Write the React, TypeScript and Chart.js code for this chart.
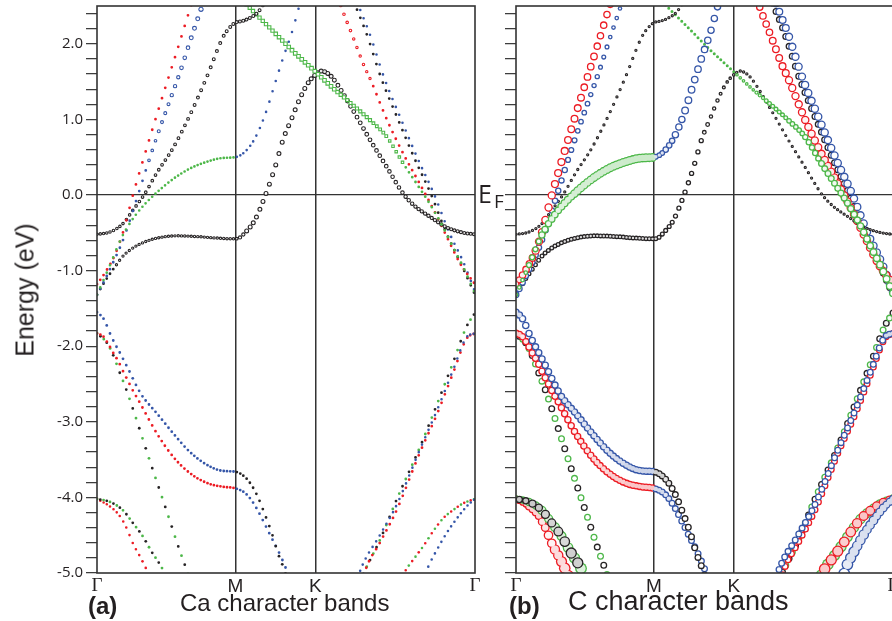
import React, { useEffect, useRef } from 'react';
import { Chart, registerables } from 'chart.js';

Chart.register(...registerables);

// ---------- axes ----------
const kTickValues = [0, 0.577, 0.911, 1.577];
const kTickLabels = ['Γ', 'M', 'K', 'Γ'];
const energyMin = -5;
const energyMax = 2.5;

// ---------- band energies [k, E(eV)] ----------
const bandR1 = [[0,-1.18],[0.025,-1.07],[0.075,-0.79],[0.108,-0.50],[0.150,0.0],[0.213,0.68],[0.280,1.37],[0.338,1.95],[0.392,2.50],[0.405,2.62]];
const bandB1 = [[0,-1.32],[0.025,-1.17],[0.075,-0.84],[0.108,-0.60],[0.167,-0.04],[0.213,0.42],[0.254,0.81],[0.305,1.26],[0.347,1.63],[0.388,2.03],[0.430,2.42],[0.446,2.57]];
const bandK1 = [[0,-0.52],[0.054,-0.49],[0.108,-0.38],[0.150,-0.20],[0.200,0.02],[0.249,0.29],[0.317,0.62],[0.388,1.06],[0.458,1.56],[0.526,2.09],[0.555,2.22],[0.577,2.28],[0.605,2.30],[0.630,2.33],[0.672,2.42],[0.700,2.55]];
const bandG1 = [[0,-1.32],[0.054,-0.93],[0.100,-0.58],[0.140,-0.36],[0.180,-0.19],[0.238,0.0],[0.317,0.21],[0.388,0.35],[0.459,0.44],[0.526,0.49],[0.577,0.50],[0.617,0.57],[0.659,0.75],[0.701,1.06],[0.743,1.48],[0.776,1.81],[0.812,2.14],[0.843,2.49],[0.852,2.60]];
const bandK2 = [[0,-1.32],[0.020,-1.21],[0.046,-1.08],[0.075,-0.95],[0.108,-0.81],[0.150,-0.70],[0.200,-0.62],[0.250,-0.57],[0.334,-0.54],[0.417,-0.55],[0.501,-0.57],[0.577,-0.58],[0.595,-0.565],[0.617,-0.50],[0.659,-0.33],[0.705,0.02],[0.743,0.37],[0.776,0.73],[0.812,1.01],[0.847,1.28],[0.880,1.48],[0.911,1.59],[0.937,1.64],[0.962,1.61],[0.985,1.54],[1.068,1.12],[1.139,0.73],[1.209,0.37],[1.277,0.02],[1.320,-0.13],[1.390,-0.29],[1.460,-0.43],[1.530,-0.50],[1.577,-0.52]];
const bandG2 = [[0.590,2.63],[0.630,2.50],[0.743,2.14],[0.812,1.92],[0.911,1.63],[0.993,1.39],[1.042,1.26],[1.139,0.99],[1.209,0.77],[1.277,0.42],[1.348,0.08],[1.389,-0.12],[1.443,-0.42],[1.485,-0.69],[1.527,-0.95],[1.577,-1.30]];
const bandR2 = [[1.005,2.62],[1.021,2.47],[1.068,2.09],[1.114,1.71],[1.139,1.54],[1.209,1.00],[1.277,0.55],[1.348,0.14],[1.402,-0.18],[1.459,-0.55],[1.514,-0.90],[1.577,-1.18]];
const bandB2 = [[1.077,2.62],[1.093,2.49],[1.139,2.12],[1.197,1.56],[1.270,0.99],[1.338,0.48],[1.405,0.02],[1.470,-0.50],[1.530,-0.90],[1.577,-1.28]];
const bandK3 = [[1.064,2.62],[1.080,2.49],[1.126,2.12],[1.184,1.56],[1.257,0.99],[1.325,0.48],[1.392,0.02],[1.457,-0.50],[1.517,-0.90],[1.577,-1.32]];
const bandB3 = [[0,-1.55],[0.026,-1.63],[0.040,-1.72],[0.054,-1.83],[0.075,-1.97],[0.096,-2.09],[0.117,-2.22],[0.138,-2.35],[0.159,-2.49],[0.187,-2.65],[0.214,-2.76],[0.250,-2.89],[0.317,-3.15],[0.388,-3.40],[0.459,-3.57],[0.526,-3.65],[0.577,-3.66],[0.617,-3.73],[0.645,-3.84],[0.672,-4.00],[0.701,-4.23],[0.729,-4.47],[0.755,-4.74],[0.771,-4.87],[0.786,-5.00],[0.800,-5.15]];
const bandR3 = [[0,-1.83],[0.026,-1.87],[0.047,-1.97],[0.068,-2.09],[0.089,-2.20],[0.110,-2.34],[0.131,-2.47],[0.152,-2.60],[0.172,-2.71],[0.249,-3.15],[0.317,-3.46],[0.388,-3.68],[0.459,-3.81],[0.526,-3.86],[0.577,-3.88],[0.617,-3.94],[0.645,-4.04],[0.672,-4.18],[0.701,-4.36],[0.729,-4.54],[0.755,-4.70],[0.788,-4.94],[0.800,-5.05]];
const bandGK = [[0,-1.83],[0.040,-1.95],[0.061,-2.07],[0.075,-2.18],[0.096,-2.36],[0.117,-2.53],[0.152,-2.85],[0.192,-3.24],[0.228,-3.59],[0.263,-3.92],[0.305,-4.32],[0.338,-4.64],[0.374,-4.96],[0.388,-5.09]];
const bandR4 = [[0,-4.02],[0.054,-4.12],[0.096,-4.25],[0.124,-4.41],[0.150,-4.61],[0.179,-4.78],[0.200,-4.91],[0.213,-5.00],[0.222,-5.07]];
const bandGK4 = [[0,-4.02],[0.054,-4.06],[0.108,-4.17],[0.150,-4.34],[0.192,-4.52],[0.228,-4.72],[0.263,-4.89],[0.275,-4.96],[0.285,-5.04]];
const bandGR5 = [[1.275,-5.05],[1.285,-4.98],[1.318,-4.83],[1.360,-4.65],[1.402,-4.45],[1.443,-4.28],[1.485,-4.17],[1.527,-4.08],[1.577,-4.02]];
const bandB5 = [[1.370,-5.06],[1.375,-4.98],[1.389,-4.87],[1.417,-4.70],[1.459,-4.47],[1.501,-4.28],[1.542,-4.12],[1.577,-4.02]];
const bandK6 = [[1.105,-5.06],[1.125,-4.92],[1.181,-4.56],[1.250,-4.03],[1.348,-3.33],[1.417,-2.78],[1.485,-2.22],[1.542,-1.74],[1.577,-1.56]];
const bandR6 = [[1.112,-5.06],[1.118,-4.98],[1.180,-4.60],[1.250,-4.17],[1.348,-3.40],[1.417,-2.91],[1.485,-2.36],[1.542,-1.90],[1.577,-1.83]];
const bandB6 = [[1.090,-5.06],[1.097,-4.98],[1.180,-4.50],[1.250,-4.10],[1.348,-3.36],[1.417,-2.86],[1.485,-2.32],[1.542,-1.88],[1.577,-1.83]];

// ---------- marker styles: [k from, colour, type(d=dot,o=ring,s=square), size, twin colour] ----------
type Stop = [number, string, string, number, string?];
const COLORS: Record<string, string> = { r: '#ec1c24', b: '#3556a8', g: '#4cb748', k: '#262324' };

// panel (a) Ca character
const caR1: Stop[] = [[0,'r','d',2.8]];
const caB1: Stop[] = [[0,'b','d',2.8],[0.205,'b','o',3.5],[0.44,'b','o',5.2]];
const caK1: Stop[] = [[0,'k','o',3.5],[0.5,'k','o',4],[0.7,'k','o',4]];
const caG1: Stop[] = [[0,'g','d',2.7],[0.577,'b','d',2.6]];
const caK2: Stop[] = [[0,'k','d',2.8],[0.09,'k','o',3.3],[0.577,'k','o',3.5],[0.63,'k','o',5],[1.0,'k','o',5],[1.577,'k','o',4]];
const caG2: Stop[] = [[0.5,'g','s',4],[0.911,'g','s',4.8],[1.25,'g','s',3.5],[1.30,'g','d',2.8]];
const caR2: Stop[] = [[1.0,'r','o',3.8],[1.12,'r','o',3.4],[1.14,'r','d',2.8]];
const caB2: Stop[] = [[1.0,'b','d',2.6]];
const caK3: Stop[] = [[1.0,'k','d',2.8]];
const caB3: Stop[] = [[0,'b','d',2.8],[0.577,'k','d',2.8]];
const caR3: Stop[] = [[0,'r','d',2.8],[0.577,'b','d',2.8]];
const caGK: Stop[] = [[0,'g','d',2.8,'k']];
const caR4: Stop[] = [[0,'r','d',2.6]];
const caGK4: Stop[] = [[0,'g','d',2.8,'k']];
const caGR5: Stop[] = [[1.2,'g','d',2.6,'r']];
const caB5: Stop[] = [[1.3,'b','d',2.6]];
const caK6: Stop[] = [[1.0,'k','d',2.8,'g']];
const caR6: Stop[] = [[1.0,'r','d',2.8]];
const caB6: Stop[] = [[1.0,'b','d',2.6]];

// panel (b) C character
const cR1: Stop[] = [[0,'r','o',7],[0.1,'r','o',8.5],[0.4,'r','o',7.5]];
const cB1: Stop[] = [[0,'b','o',7],[0.2,'b','o',6.5],[0.44,'b','o',4.5]];
const cK1: Stop[] = [[0,'k','o',3.3]];
const cG1: Stop[] = [[0,'g','o',4],[0.12,'g','o',7.5],[0.3,'g','o',9],[0.577,'b','o',5.5],[0.7,'b','o',8],[0.85,'b','o',7.5]];
const cK2: Stop[] = [[0,'k','o',5],[0.577,'k','o',5],[0.75,'k','o',5.5],[0.911,'k','o',3.5],[1.1,'k','o',3.2],[1.577,'k','o',3.4]];
const cG2: Stop[] = [[0.5,'g','d',3],[0.93,'g','o',3.5],[1.3,'g','o',7],[1.577,'g','o',8]];
const cR2: Stop[] = [[1.0,'r','o',7.5],[1.2,'r','o',8.5]];
const cB2: Stop[] = [[1.0,'b','o',7.5],[1.2,'b','o',8.5]];
const cK3: Stop[] = [[1.0,'k','o',7]];
const cB3: Stop[] = [[0,'b','o',7.5],[0.577,'k','o',7]];
const cR3: Stop[] = [[0,'r','o',7.5],[0.577,'b','o',7]];
const cGK: Stop[] = [[0,'g','o',7,'k']];
const cR4: Stop[] = [[0,'r','o',6],[0.22,'r','o',12]];
const cGK4: Stop[] = [[0,'g','o',7,'k'],[0.28,'g','o',12,'k']];
const cGR5: Stop[] = [[1.27,'g','o',12,'r'],[1.577,'g','o',9,'r']];
const cB5: Stop[] = [[1.37,'b','o',12],[1.577,'b','o',8]];
const cK6: Stop[] = [[1.0,'k','o',7,'g']];
const cR6: Stop[] = [[1.0,'r','o',7]];
const cB6: Stop[] = [[1.0,'b','o',7]];

const bandList = [
  { data: bandR4, ca: caR4, c: cR4 },
  { data: bandGK4, ca: caGK4, c: cGK4 },
  { data: bandGR5, ca: caGR5, c: cGR5 },
  { data: bandB5, ca: caB5, c: cB5 },
  { data: bandGK, ca: caGK, c: cGK },
  { data: bandR3, ca: caR3, c: cR3 },
  { data: bandB3, ca: caB3, c: cB3 },
  { data: bandK6, ca: caK6, c: cK6 },
  { data: bandR6, ca: caR6, c: cR6 },
  { data: bandB6, ca: caB6, c: cB6 },
  { data: bandK3, ca: caK3, c: cK3 },
  { data: bandB2, ca: caB2, c: cB2 },
  { data: bandR2, ca: caR2, c: cR2 },
  { data: bandK2, ca: caK2, c: cK2 },
  { data: bandG2, ca: caG2, c: cG2 },
  { data: bandK1, ca: caK1, c: cK1 },
  { data: bandB1, ca: caB1, c: cB1 },
  { data: bandR1, ca: caR1, c: cR1 },
  { data: bandG1, ca: caG1, c: cG1 },
];

const STEP = 3.25; // k-mesh spacing in pixels

function styleAt(stops: Stop[], k: number) {
  let i = 0;
  for (let j = 0; j < stops.length; j++) if (stops[j][0] <= k) i = j;
  const s = stops[i];
  const n = stops[i + 1];
  let d = s[3];
  if (n && n[1] === s[1] && n[2] === s[2] && k > s[0]) {
    const t = Math.min(1, Math.max(0, (k - s[0]) / (n[0] - s[0])));
    d = s[3] + (n[3] - s[3]) * t;
  }
  return { c: s[1], t: s[2], d, c2: s[4] };
}

function tint(hex: string, w: number) {
  const n = parseInt(hex.slice(1), 16);
  const m = (c: number) => Math.round(c + (255 - c) * w);
  return `rgb(${m((n >> 16) & 255)},${m((n >> 8) & 255)},${m(n & 255)})`;
}

const HIDDEN = { color: 'rgba(0,0,0,0)', width: 1, dash: [] as number[], offset: 0, cap: 'butt' };

function segStyle(ctx: any, pts: { x: number; y: number }[], stops: Stop[], ci: number, inner: boolean, lw: number) {
  const a = pts[ctx.p0DataIndex];
  const b = pts[ctx.p1DataIndex];
  if (!a || !b) return HIDDEN;
  const st = styleAt(stops, (a.x + b.x) / 2);
  const twin = !!st.c2;
  if (ci === 1 && !twin) return HIDDEN;
  const hollow = st.t !== 'd';
  if (inner && !hollow) return HIDDEN;
  const p0 = ctx.p0, p1 = ctx.p1;
  const ddx = p1.x - p0.x, ddy = p1.y - p0.y;
  const len = Math.hypot(ddx, ddy);
  const dx = Math.max(0.05, ddx);
  const step = twin ? 2 * STEP : STEP;
  const g = Math.max(0.5, (step * len) / dx);
  const phase = ci === 1 ? STEP : 0;
  const x0 = ctx.chart.chartArea ? ctx.chart.chartArea.left : 0;
  const n = Math.ceil((p0.x - x0 - phase) / step - 1e-6);
  const xf = x0 + phase + n * step;
  const frac = Math.min(1, Math.max(0, (xf - p0.x) / step));
  const offset = g * (1 - frac);
  const base = COLORS[ci === 1 ? (st.c2 as string) : st.c];
  const cap = st.t === 's' ? 'square' : 'round';
  if (inner) {
    const ratio = ((STEP * len) / dx) / st.d;
    const w = Math.min(1, 0.55 + 0.45 * ratio);
    return { color: tint(base, w), width: Math.max(0.6, st.d - 2 * lw), dash: [0, g], offset, cap };
  }
  return { color: base, width: st.d, dash: [0, g], offset, cap };
}

function buildDatasets(panel: 'a' | 'b') {
  const out: any[] = [];
  let order = 0;
  const lw = panel === 'a' ? 1.1 : 1.3;
  for (const band of bandList) {
    const stops: Stop[] = panel === 'a' ? band.ca : band.c;
    const hasTwin = stops.some((s) => !!s[4]);
    const hasHollow = stops.some((s) => s[2] !== 'd');
    for (const ci of [0, 1]) {
      if (ci === 1 && !hasTwin) continue;
      for (const inner of [false, true]) {
        if (inner && !hasHollow) continue;
        const pts = band.data.map(([x, y]) => ({ x, y }));
        const mk = (f: (s: any) => any) => (ctx: any) => f(segStyle(ctx, pts, stops, ci, inner, lw));
        out.push({
          data: pts,
          order: -order++,
          borderWidth: 1,
          borderColor: 'rgba(0,0,0,0)',
          pointRadius: 0,
          pointHoverRadius: 0,
          pointHitRadius: 0,
          fill: false,
          tension: 0,
          cubicInterpolationMode: 'monotone',
          clip: 0,
          segment: {
            borderColor: mk((s) => s.color),
            borderWidth: mk((s) => s.width),
            borderDash: mk((s) => s.dash),
            borderDashOffset: mk((s) => s.offset),
            borderCapStyle: mk((s) => s.cap),
          },
        });
      }
    }
  }
  return out;
}

const AXIS = '#333333';
const TEXT = '#231f20';

const framePlugin = {
  id: 'frame',
  afterDatasetsDraw(chart: any) {
    const { ctx, chartArea: a } = chart;
    ctx.save();
    ctx.strokeStyle = AXIS;
    ctx.lineWidth = 1.6;
    ctx.strokeRect(a.left, a.top, a.right - a.left, a.bottom - a.top);
    ctx.restore();
  },
};

function buildConfig(panel: 'a' | 'b'): any {
  return {
    type: 'line',
    data: { datasets: buildDatasets(panel) },
    plugins: [framePlugin],
    options: {
      animation: false,
      responsive: false,
      maintainAspectRatio: false,
      events: [],
      layout: { autoPadding: false, padding: { left: 0, right: panel === 'a' ? 5 : 27, top: 6, bottom: 0 } },
      plugins: { legend: { display: false }, tooltip: { enabled: false } },
      scales: {
        x: {
          type: 'linear',
          min: 0,
          max: 1.577,
          afterBuildTicks: (s: any) => {
            s.ticks = kTickValues.map((v) => ({ value: v }));
          },
          afterFit: (s: any) => {
            s.height = 48;
            s.paddingLeft = 0;
            s.paddingRight = 0;
          },
          ticks: {
            autoSkip: false,
            maxRotation: 0,
            minRotation: 0,
            padding: 2,
            color: TEXT,
            font: (c: any) => ({
              family: c.index === 1 || c.index === 2 ? "'Liberation Sans', Arial, sans-serif" : "'Liberation Serif', 'Times New Roman', serif",
              size: 19,
            }),
            callback: (_v: any, i: number) => kTickLabels[i],
          },
          grid: {
            drawTicks: false,
            color: (c: any) => (c.index === 1 || c.index === 2 ? AXIS : 'rgba(0,0,0,0)'),
            lineWidth: 1.5,
          },
          border: { display: false },
        },
        y: {
          type: 'linear',
          min: energyMin,
          max: energyMax,
          afterBuildTicks: (s: any) => {
            const t: any[] = [];
            for (let i = 0; i <= 37; i++) t.push({ value: Math.round((energyMin + i * 0.2) * 10) / 10 });
            s.ticks = t;
          },
          afterFit: (s: any) => {
            s.width = panel === 'a' ? 97 : 36;
            s.paddingTop = 0;
            s.paddingBottom = 0;
          },
          ticks: {
            autoSkip: false,
            padding: 3,
            color: TEXT,
            font: { family: "'Open Sans', 'Noto Sans', sans-serif", size: 15 },
            callback: (v: number) =>
              panel === 'a' && Math.abs(v - Math.round(v)) < 1e-6 ? Number(v).toFixed(1) : '',
          },
          grid: {
            tickLength: 11,
            tickColor: AXIS,
            tickWidth: 1.2,
            color: (c: any) => (c.tick && Math.abs(c.tick.value) < 1e-9 ? AXIS : 'rgba(0,0,0,0)'),
            lineWidth: 1.3,
          },
          border: { display: false },
        },
      },
    },
  };
}

function Panel({ panel, left, width }: { panel: 'a' | 'b'; left: number; width: number }) {
  const ref = useRef<HTMLCanvasElement>(null);
  useEffect(() => {
    if (!ref.current) return;
    const chart = new Chart(ref.current, buildConfig(panel));
    return () => chart.destroy();
  }, [panel]);
  return (
    <canvas
      ref={ref}
      width={width}
      height={621}
      style={{ position: 'absolute', left, top: 0, width, height: 621, display: 'block' }}
    />
  );
}

const txt = (extra: React.CSSProperties): React.CSSProperties => ({
  position: 'absolute',
  whiteSpace: 'nowrap',
  lineHeight: 1,
  color: TEXT,
  ...extra,
});

export default function App() {
  const sans = "'Liberation Sans', Arial, Helvetica, sans-serif";
  return (
    <div style={{ position: 'fixed', left: 0, top: 0, width: 892, height: 621, overflow: 'hidden', background: '#fff' }}>
      <Panel panel="a" left={0} width={480} />
      <Panel panel="b" left={480} width={440} />
      <div
        style={txt({
          left: 25,
          top: 290,
          fontFamily: sans,
          fontSize: 25,
          transform: 'translate(-50%, -50%) rotate(-90deg)',
        })}
      >
        Energy (eV)
      </div>
      <div style={txt({ left: 478, top: 181, fontFamily: "'Open Sans', sans-serif", fontSize: 25 })}>E</div>
      <div style={txt({ left: 494, top: 192, fontFamily: "'Open Sans', sans-serif", fontSize: 19 })}>F</div>
      <div style={txt({ left: 88, top: 594, fontFamily: sans, fontSize: 24, fontWeight: 'bold' })}>(a)</div>
      <div style={txt({ left: 180, top: 591, fontFamily: sans, fontSize: 24 })}>Ca character bands</div>
      <div style={txt({ left: 509, top: 594, fontFamily: sans, fontSize: 24, fontWeight: 'bold' })}>(b)</div>
      <div style={txt({ left: 568, top: 588, fontFamily: sans, fontSize: 27 })}>C character bands</div>
    </div>
  );
}
